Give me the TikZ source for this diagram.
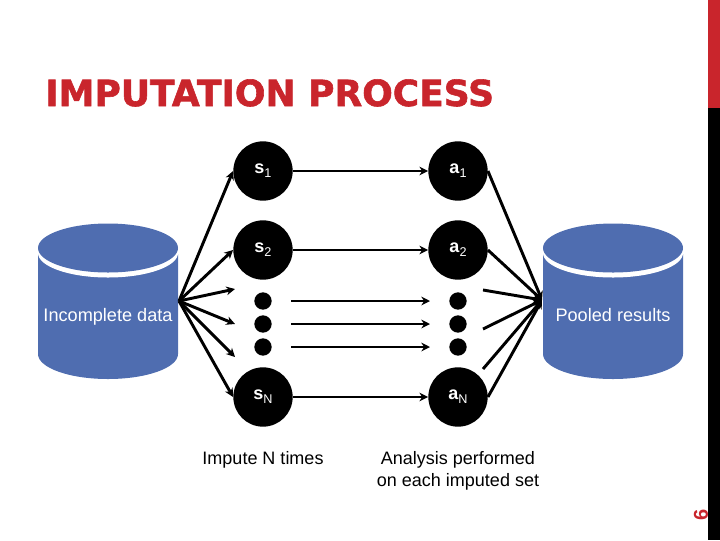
\documentclass[tikz,border=0pt]{standalone}
\usepackage{fontspec}
\setmainfont{Liberation Sans}
\newfontfamily\titlefont[BoldFeatures={FakeBold=1.6}]{DejaVu Sans}
\usetikzlibrary{calc,positioning,arrows.meta}
\definecolor{barred}{HTML}{C9252C}
\definecolor{drumblue}{HTML}{4F6DB0}
\tikzset{
  stage/.style={
    circle,
    fill=black,
    text=white,
    minimum size=44.5pt,
    inner sep=0pt,
    font=\fontsize{13.5}{16}\selectfont
  },
  dot/.style={
    circle,
    fill=black,
    minimum size=13pt,
    inner sep=0pt
  },
  link/.style={
    draw=black,
    line width=2.2pt,
    -{Stealth[length=6.5pt,width=6.5pt]}
  },
  drumtext/.style={
    text=white,
    anchor=base,
    font=\fontsize{13.6}{16}\selectfont
  },
  caption/.style={
    text=black,
    align=center,
    font=\fontsize{13.5}{16.5}\selectfont
  }
}
% one database drum, centred on #1
\newcommand{\drum}[1]{
  \fill[drumblue] ($(#1)+(-70,6)$) -- ($(#1)+(-70,106)$)
    arc[start angle=180,end angle=0,x radius=70,y radius=25]
    -- ($(#1)+(70,6)$) -- cycle;
  \fill[white] ($(#1)+(0,5)$) ellipse[x radius=70,y radius=24.5];
  \fill[drumblue] (#1) ellipse[x radius=70,y radius=24.5];
}
% letter with its index, as the circles print them
\newcommand{\stagetext}[2]{\textbf{#1}\raisebox{-3pt}{\fontsize{9.5}{11}\selectfont #2}}

\begin{document}
\begin{tikzpicture}[x=0.75pt,y=-0.75pt]
  \useasboundingbox (0,0) rectangle (720,540);

  \node[anchor=base west,inner sep=0pt,text=barred,font=\titlefont\bfseries\fontsize{27}{30}\selectfont] (title) at (45,106)
    {IMPUTATION PROCESS};

  % bar at the right edge
  \fill[barred] (708,0) rectangle (720,108);
  \fill[black] (708,108) rectangle (720,540);
  \node[text=barred,rotate=90,inner sep=0pt,font=\bfseries\fontsize{15}{18}\selectfont] (page) at (701,515) {6};

  \drum{108,248}
  \drum{613,248}
  \node[drumtext] (incomplete) at (108,321) {Incomplete data};
  \node[drumtext] (pooled) at (613,321) {Pooled results};

  \node[stage] (s1) at (263,171) {\stagetext{s}{1}};
  \node[stage] (s2) at (263,250) {\stagetext{s}{2}};
  \node[stage] (sN) at (263,397) {\stagetext{s}{N}};
  \node[stage] (a1) at (458,171) {\stagetext{a}{1}};
  \node[stage] (a2) at (458,250) {\stagetext{a}{2}};
  \node[stage] (aN) at (458,397) {\stagetext{a}{N}};

  \node[dot] (sdot1) at (263,301) {};
  \node[dot] (sdot2) at (263,324) {};
  \node[dot] (sdot3) at (263,347) {};
  \node[dot] (adot1) at (458,301) {};
  \node[dot] (adot2) at (458,324) {};
  \node[dot] (adot3) at (458,347) {};

  \coordinate (source) at (179,301);
  \coordinate (sink) at (542,300);
  \coordinate (out1) at (235,289);
  \coordinate (out2) at (235,324);
  \coordinate (out3) at (235,357);
  \coordinate (in1) at (483,290);
  \coordinate (in2) at (483,329);
  \coordinate (in3) at (483,369);

  \foreach \to in {s1.west,s2.west,out1,out2,out3,sN.west}
    \draw[link] (source) -- (\to);
  \foreach \from in {a1.east,a2.east,in1,in2,in3,aN.east}
    \draw[link] (\from) -- (sink);
  \foreach \row in {1,2,N}
    \draw[link] (s\row) -- (a\row);
  \foreach \row in {1,2,3}
    \draw[link] ([xshift=21pt]sdot\row.center) -- ([xshift=-21pt]adot\row.center);

  \node[caption,anchor=north] (impute) at (263,447) {Impute N times};
  \node[caption,anchor=north] (analysis) at (458,447)
    {Analysis performed\\on each imputed set};
\end{tikzpicture}
\end{document}
